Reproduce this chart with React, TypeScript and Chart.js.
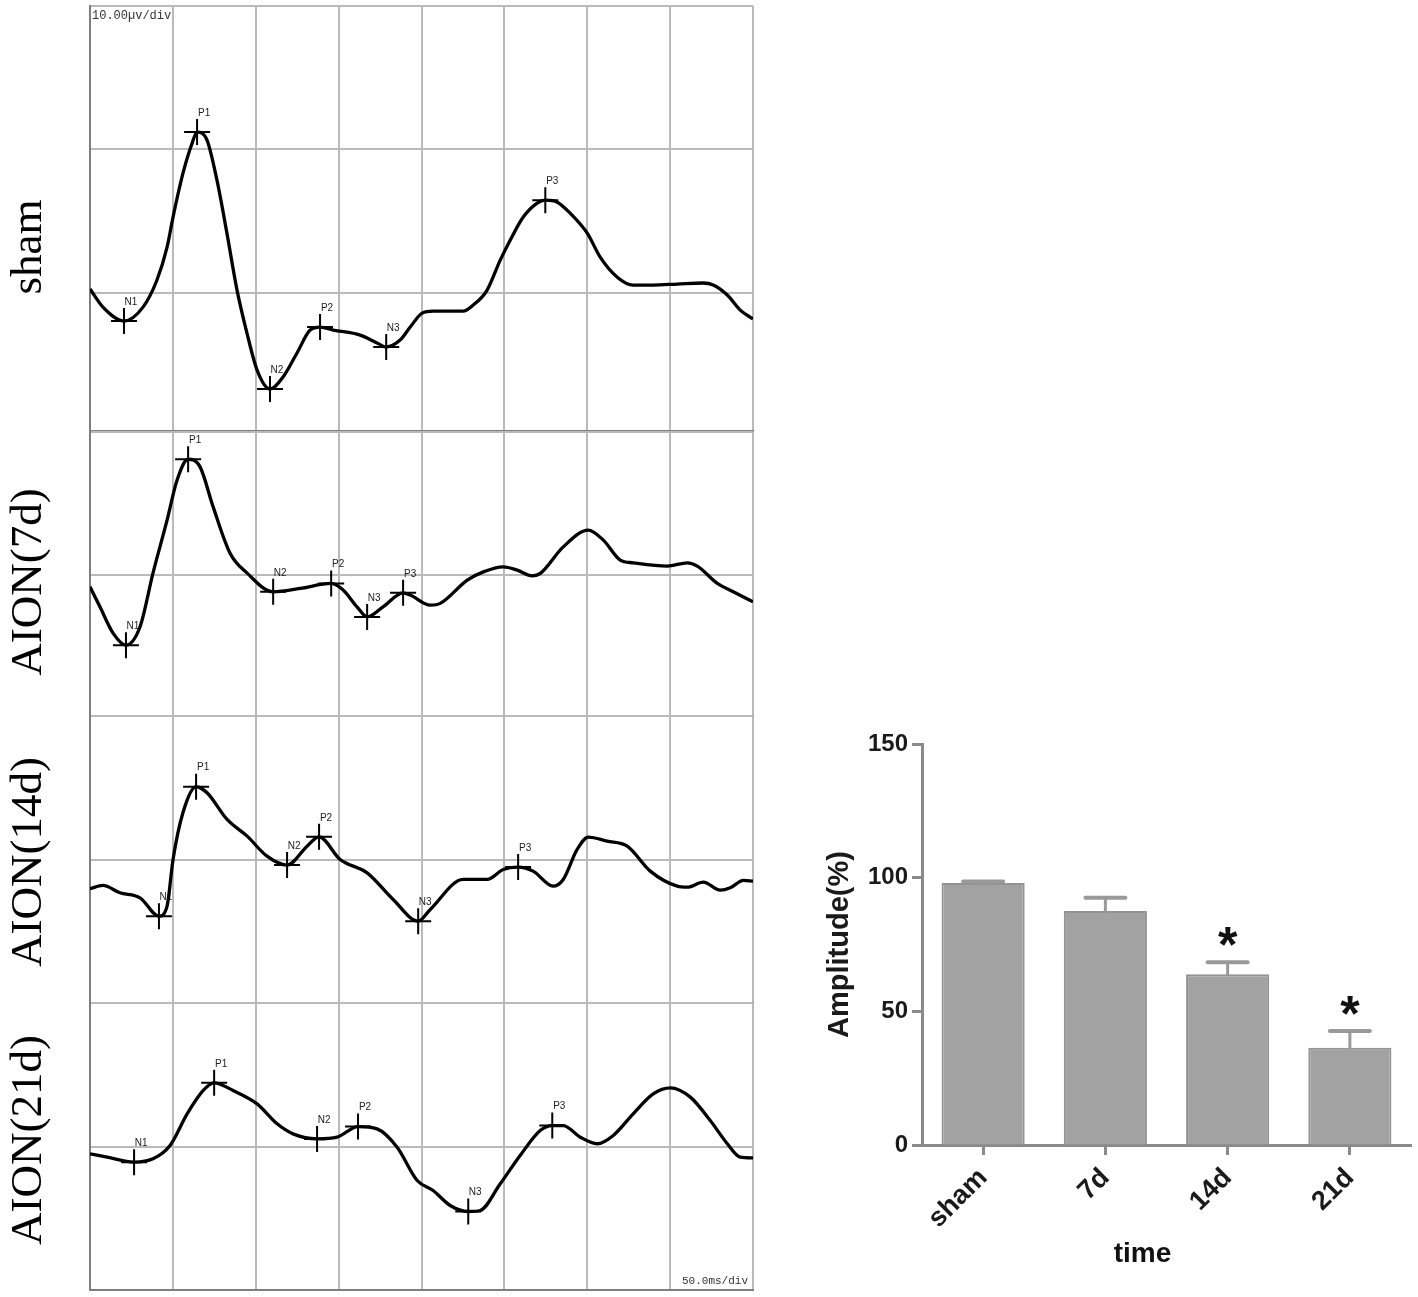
import React, { useEffect, useRef } from 'react';
import { Chart, registerables } from 'chart.js';

Chart.register(...registerables);

const SANS = '"Liberation Sans", Arial, sans-serif';
const SERIF = '"Liberation Serif", "Times New Roman", serif';
const MONO = '"Liberation Mono", "DejaVu Sans Mono", monospace';

// ---------- VEP waveforms (time in ms, amplitude in µV) ----------
const peakNames = ['N1', 'P1', 'N2', 'P2', 'N3', 'P3'];

const shamTime = [0, 7.8, 20.5, 32.0, 40.4, 46.5, 50.1, 56.1, 61.6, 64.6, 70.6, 76.6, 82.6, 88.7, 94.7, 100.8, 108.6, 116.5, 124.9, 132.8, 138.8, 146.7, 163.0, 173.2, 178.7, 187.1, 193.2, 200.4, 207.0, 225.1, 231.2, 239.6, 247.5, 253.5, 261.4, 269.8, 274.7, 281.9, 289.7, 300.0, 307.8, 318.1, 327.7, 339.8, 354.3, 370.0, 376.0, 384.5, 392.3, 400];
const shamAmp = [0.26, -1.0, -1.97, -1.0, 0.89, 3.18, 5.28, 8.34, 10.43, 11.21, 10.65, 7.85, 4.16, 0.19, -2.81, -5.39, -6.71, -5.87, -4.2, -2.6, -2.39, -2.6, -2.95, -3.5, -3.78, -3.3, -2.39, -1.42, -1.28, -1.28, -0.86, 0.19, 2.28, 3.67, 5.28, 6.25, 6.46, 6.32, 5.55, 4.16, 2.49, 1.09, 0.54, 0.54, 0.61, 0.68, 0.54, -0.16, -1.21, -1.83];
const shamPeakTime = [20.5, 64.6, 108.6, 138.8, 178.7, 274.7];
const shamPeakAmp = [-1.97, 11.21, -6.71, -2.39, -3.78, 6.46];

const d7Time = [0, 6.0, 13.9, 21.7, 30.2, 38.0, 46.5, 52.5, 59.2, 66.4, 74.3, 84.5, 94.8, 110.5, 126.7, 145.5, 152.7, 161.1, 167.2, 176.8, 188.9, 193.2, 205.3, 211.3, 227.6, 237.3, 249.3, 257.8, 266.8, 271.7, 285.5, 300.6, 309.7, 319.9, 327.8, 348.3, 360.4, 366.4, 378.5, 388.1, 400];
const d7Amp = [-0.79, -2.19, -4.02, -4.86, -3.58, 0.16, 3.85, 6.64, 8.1, 7.57, 4.78, 1.55, 0.16, -1.14, -0.91, -0.56, -1.02, -2.19, -2.89, -2.19, -1.21, -1.37, -2.07, -1.95, -0.33, 0.25, 0.6, 0.37, -0.03, 0.14, 1.99, 3.16, 2.46, 1.07, 0.88, 0.65, 0.88, 0.65, -0.56, -1.14, -1.84];
const d7PeakTime = [21.7, 59.2, 110.5, 145.5, 167.2, 188.9];
const d7PeakAmp = [-4.86, 8.1, -1.14, -0.56, -2.89, -1.21];

const d14Time = [0, 7.8, 18.1, 30.2, 41.6, 46.5, 50.1, 56.1, 64.0, 70.6, 82.7, 94.8, 106.8, 118.9, 131.0, 138.2, 150.9, 167.2, 182.9, 198.0, 205.3, 225.1, 239.6, 249.3, 258.3, 267.3, 279.4, 285.5, 293.9, 300.6, 312.0, 324.1, 338.0, 354.3, 360.4, 370.0, 380.3, 386.3, 394.2, 400];
const d14Amp = [-2.04, -1.81, -2.32, -2.67, -3.95, -3.25, 0.0, 3.27, 5.07, 4.65, 2.79, 1.63, 0.23, -0.39, 0.93, 1.58, 0.0, -0.93, -2.79, -4.3, -3.48, -1.39, -1.39, -0.7, -0.53, -0.81, -1.86, -1.39, 0.7, 1.56, 1.28, 0.93, -0.81, -1.86, -1.93, -1.58, -2.14, -1.97, -1.46, -1.51];
const d14PeakTime = [41.6, 64.0, 118.9, 138.2, 198.0, 258.3];
const d14PeakAmp = [-3.95, 5.07, -0.39, 1.58, -4.3, -0.53];

const d21Time = [0, 10.3, 26.6, 38.0, 48.3, 58.6, 68.2, 74.9, 86.3, 100.8, 112.9, 122.5, 137.0, 149.1, 161.7, 173.2, 185.3, 197.4, 207.0, 217.3, 228.2, 235.4, 247.5, 259.5, 271.6, 278.9, 285.5, 295.8, 306.0, 315.7, 327.7, 339.8, 350.1, 362.2, 374.2, 384.5, 392.3, 400];
const d21Amp = [-0.51, -0.74, -1.09, -0.86, 0.07, 2.28, 3.9, 4.44, 3.9, 2.97, 1.58, 0.88, 0.53, 0.65, 1.39, 1.23, -0.05, -2.37, -3.07, -4.11, -4.53, -4.46, -2.6, -0.63, 1.11, 1.46, 1.46, 0.65, 0.19, 0.77, 2.28, 3.67, 4.09, 3.44, 1.81, 0.19, -0.74, -0.79];
const d21PeakTime = [26.6, 74.9, 137.0, 161.7, 228.2, 278.9];
const d21PeakAmp = [-1.09, 4.44, 0.53, 1.39, -4.53, 1.46];

const timeMax = 400; // ms (50 ms/div)
const timeStep = 50;
const ampStep = 10; // µV/div

// ---------- Bar chart ----------
const barCategories = ['sham', '7d', '14d', '21d'];
const barMeans = [98.0, 87.5, 63.9, 36.4];
const barErrors = [0.6, 5.0, 4.5, 6.2];
const barStars = ['', '', '*', '*'];
const amplitudeTickStep = 50;
const amplitudeMax = 150;

// ---------- layout of panels ----------
const panels = [
  { name: 'sham', time: shamTime, amp: shamAmp, pt: shamPeakTime, pa: shamPeakAmp, yMin: -9.64, yMax: 20, top: 0, height: 437, labelY: 247, note: 'top' },
  { name: 'AION(7d)', time: d7Time, amp: d7Amp, pt: d7PeakTime, pa: d7PeakAmp, yMin: -9.8, yMax: 10, top: 426, height: 296, labelY: 582, note: '' },
  { name: 'AION(14d)', time: d14Time, amp: d14Amp, pt: d14PeakTime, pa: d14PeakAmp, yMin: -10, yMax: 10, top: 710, height: 299, labelY: 862, note: '' },
  { name: 'AION(21d)', time: d21Time, amp: d21Amp, pt: d21PeakTime, pa: d21PeakAmp, yMin: -10, yMax: 10, top: 997, height: 299, labelY: 1140, note: 'bottom' },
];

const GRID = '#bababa';
const FRAME = '#7e7e7e';

function WavePanel({ spec }: { spec: any }) {
  const ref = useRef<HTMLCanvasElement>(null);
  useEffect(() => {
    const canvas = ref.current!;
    const textPlugin = {
      id: 'waveText',
      beforeDatasetsDraw(chart: any) {
        const ctx = chart.ctx;
        const xs = chart.scales.x;
        const ys = chart.scales.y;
        ctx.save();
        ctx.font = `10px ${SANS}`;
        ctx.fillStyle = '#222';
        ctx.textAlign = 'center';
        ctx.textBaseline = 'middle';
        spec.pt.forEach((t: number, i: number) => {
          ctx.fillText(peakNames[i], xs.getPixelForValue(t) + 7, ys.getPixelForValue(spec.pa[i]) - 19);
        });
        if (spec.note === 'top') {
          ctx.font = `12px ${MONO}`;
          ctx.textAlign = 'left';
          ctx.fillStyle = '#333';
          ctx.fillText('10.00\u00b5v/div', xs.left + 2, ys.top + 10);
        } else if (spec.note === 'bottom') {
          ctx.font = `11px ${MONO}`;
          ctx.textAlign = 'right';
          ctx.fillStyle = '#333';
          ctx.fillText('50.0ms/div', xs.right - 5, ys.bottom - 9);
        }
        ctx.restore();
      },
      afterDraw(chart: any) {
        const ctx = chart.ctx;
        ctx.save();
        ctx.translate(41, spec.labelY - spec.top);
        ctx.rotate(-Math.PI / 2);
        ctx.font = `45px ${SERIF}`;
        ctx.fillStyle = '#000';
        ctx.textAlign = 'center';
        ctx.textBaseline = 'alphabetic';
        ctx.fillText(spec.name, 0, 0);
        ctx.restore();
      },
    };
    const chart = new Chart(canvas, {
      type: 'line',
      data: {
        datasets: [
          {
            data: spec.time.map((t: number, i: number) => ({ x: t, y: spec.amp[i] })),
            borderColor: '#000',
            borderWidth: 3.3,
            pointRadius: 0,
            cubicInterpolationMode: 'monotone',
            fill: false,
          },
          {
            data: spec.pt.map((t: number, i: number) => ({ x: t, y: spec.pa[i] })),
            showLine: false,
            pointStyle: 'cross',
            pointRadius: 13,
            pointBorderWidth: 2,
            pointBorderColor: '#000',
            borderColor: '#000',
            backgroundColor: '#000',
          },
        ],
      },
      options: {
        animation: false,
        responsive: false,
        maintainAspectRatio: false,
        devicePixelRatio: 1,
        layout: { autoPadding: false, padding: { left: 90, right: 7, top: 6, bottom: 6 } },
        plugins: { legend: { display: false }, tooltip: { enabled: false } },
        scales: {
          x: {
            type: 'linear',
            min: 0,
            max: timeMax,
            ticks: { display: false, stepSize: timeStep },
            grid: { color: GRID, lineWidth: 2, drawTicks: false },
            border: { color: FRAME, width: 2 },
            afterFit: (s: any) => { s.height = 0; },
          },
          y: {
            type: 'linear',
            min: spec.yMin,
            max: spec.yMax,
            ticks: { display: false, stepSize: ampStep },
            grid: { color: GRID, lineWidth: 2, drawTicks: false },
            border: { color: FRAME, width: 2 },
            afterFit: (s: any) => { s.width = 0; },
          },
        },
      },
      plugins: [textPlugin],
    } as any);
    return () => chart.destroy();
  }, [spec]);
  return (
    <canvas
      ref={ref}
      width={760}
      height={spec.height}
      style={{ position: 'absolute', left: 0, top: spec.top, width: 760, height: spec.height }}
    />
  );
}

function BarPanel() {
  const ref = useRef<HTMLCanvasElement>(null);
  useEffect(() => {
    const canvas = ref.current!;
    const errPlugin = {
      id: 'errorBars',
      afterDatasetsDraw(chart: any) {
        const ctx = chart.ctx;
        const xs = chart.scales.x;
        const ys = chart.scales.y;
        ctx.save();
        barMeans.forEach((m, i) => {
          const x = xs.getPixelForValue(i);
          const yTop = ys.getPixelForValue(m);
          const yErr = ys.getPixelForValue(m + barErrors[i]);
          ctx.strokeStyle = '#999';
          ctx.lineCap = 'round';
          ctx.lineWidth = 3;
          ctx.beginPath();
          ctx.moveTo(x, yTop);
          ctx.lineTo(x, yErr);
          ctx.stroke();
          ctx.lineWidth = 4;
          ctx.beginPath();
          ctx.moveTo(x - 20, yErr);
          ctx.lineTo(x + 20, yErr);
          ctx.stroke();
          if (barStars[i]) {
            ctx.fillStyle = '#111';
            ctx.font = `bold 50px ${SANS}`;
            ctx.textAlign = 'center';
            ctx.textBaseline = 'alphabetic';
            ctx.fillText(barStars[i], x, yErr);
          }
        });
        ctx.fillStyle = '#111';
        ctx.font = `bold 28px ${SANS}`;
        ctx.textAlign = 'center';
        ctx.textBaseline = 'middle';
        ctx.fillText('time', (xs.left + xs.right) / 2 - 24, chart.height - 43);
        ctx.restore();
      },
    };
    const chart = new Chart(canvas, {
      type: 'bar',
      data: {
        labels: barCategories,
        datasets: [
          {
            data: barMeans,
            backgroundColor: '#a2a2a2',
            borderColor: '#939393',
            borderWidth: 2,
            barPercentage: 0.68,
            categoryPercentage: 1,
          },
        ],
      },
      options: {
        animation: false,
        responsive: false,
        maintainAspectRatio: false,
        devicePixelRatio: 1,
        layout: { autoPadding: false, padding: { left: 0, right: 7, top: 44, bottom: 0 } },
        plugins: { legend: { display: false }, tooltip: { enabled: false } },
        scales: {
          x: {
            grid: { display: true, drawOnChartArea: false, offset: false, tickLength: 10, tickWidth: 3, tickColor: '#8a8a8a' },
            border: { color: '#8a8a8a', width: 3 },
            ticks: { font: { family: SANS, weight: 'bold', size: 27 }, color: '#1a1a1a', maxRotation: 45, minRotation: 45, padding: 7 },
            afterFit: (s: any) => { s.height = 152; },
          },
          y: {
            min: 0,
            max: amplitudeMax,
            ticks: { stepSize: amplitudeTickStep, font: { family: SANS, weight: 'bold', size: 24 }, color: '#1a1a1a', padding: 4 },
            grid: { display: true, drawOnChartArea: false, tickLength: 10, tickWidth: 3, tickColor: '#8a8a8a' },
            border: { color: '#8a8a8a', width: 3 },
            title: { display: true, text: 'Amplitude(%)', color: '#1a1a1a', font: { family: SANS, weight: 'bold', size: 29 }, padding: { top: 63, bottom: 0 } },
            afterFit: (s: any) => { s.width = 162; },
          },
        },
      },
      plugins: [errPlugin],
    } as any);
    return () => chart.destroy();
  }, []);
  return (
    <canvas
      ref={ref}
      width={658}
      height={597}
      style={{ position: 'absolute', left: 760, top: 700, width: 658, height: 597 }}
    />
  );
}

export default function App() {
  return (
    <div style={{ position: 'absolute', left: 0, top: 0, width: 1418, height: 1297, background: '#fff', overflow: 'hidden' }}>
      {panels.map((p) => (
        <WavePanel key={p.name} spec={p} />
      ))}
      <BarPanel />
    </div>
  );
}
